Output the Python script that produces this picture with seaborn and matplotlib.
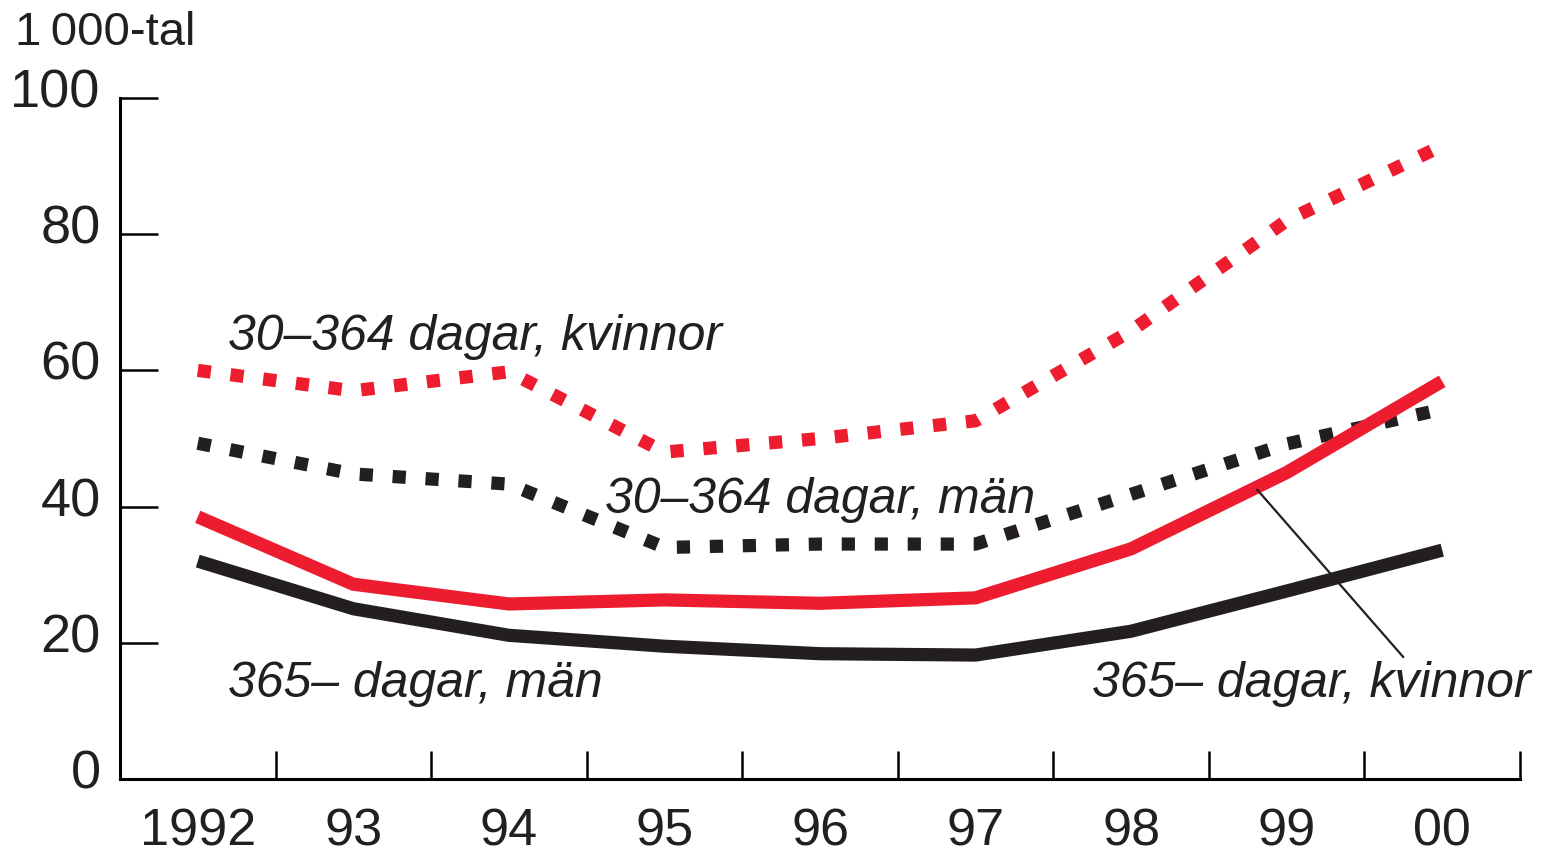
import numpy as np
import pandas as pd
import seaborn as sns
import matplotlib.pyplot as plt
from matplotlib.ticker import FixedLocator
import matplotlib.transforms as mtransforms

# data (1000-tal)
years = ['1992', '93', '94', '95', '96', '97', '98', '99', '00']
kvinnor_30_364 = [60.0, 57.0, 59.8, 48.0, 50.0, 52.6, 65.8, 82.0, 93.0]
man_30_364 = [49.3, 44.8, 43.3, 34.0, 34.5, 34.5, 41.8, 49.2, 54.3]
kvinnor_365 = [38.5, 28.6, 25.7, 26.3, 25.8, 26.6, 33.8, 45.0, 58.4]
man_365 = [32.0, 25.0, 21.1, 19.5, 18.4, 18.2, 21.7, 27.6, 33.6]
y_ticks = [0, 20, 40, 60, 80, 100]

RED = '#ED1C2E'
BLACK = '#231F20'

sns.set_style('ticks')
plt.rcParams['font.family'] = ['Liberation Sans', 'DejaVu Sans']

fig = plt.figure(figsize=(15.42, 8.53), dpi=100)
ax = fig.add_axes([120 / 1542, 1 - 780 / 853, 1400 / 1542, 681 / 853])

x = np.arange(len(years))
dotted = (0, (1, 1.5))
lw = 9.5

sns.lineplot(x=x, y=kvinnor_30_364, ax=ax, color=RED, linewidth=lw, linestyle=dotted)
sns.lineplot(x=x, y=man_30_364, ax=ax, color=BLACK, linewidth=lw, linestyle=dotted)
sns.lineplot(x=x, y=kvinnor_365, ax=ax, color=RED, linewidth=lw, solid_capstyle='butt')
sns.lineplot(x=x, y=man_365, ax=ax, color=BLACK, linewidth=lw, solid_capstyle='butt')

ax.set_xlim(-0.5, len(years) - 0.5)
ax.set_ylim(0, 100)
sns.despine(ax=ax)
for side in ['left', 'bottom']:
    ax.spines[side].set_linewidth(2.2)
    ax.spines[side].set_color('black')

# x: labels centred on years, tick marks between
ax.set_xticks(x)
ax.set_xticklabels(years)
ax.xaxis.set_minor_locator(FixedLocator(np.arange(0.5, len(years), 1.0)))
ax.tick_params(axis='x', which='major', length=0, pad=20, labelsize=37.5, colors=BLACK)
ax.tick_params(axis='x', which='minor', direction='in', length=20, width=1.8, color='black')

ax.set_yticks(y_ticks)
ax.tick_params(axis='y', direction='in', length=27, width=1.8, color='black',
               pad=14, labelsize=39, labelcolor=BLACK)
offset = mtransforms.ScaledTranslation(0, 11 / 100, fig.dpi_scale_trans)
for lab in ax.get_yticklabels():
    lab.set_transform(lab.get_transform() + offset)
ax.set_xlabel('')
ax.set_ylabel('')

fig.text(15 / 1542, 1 - 45 / 853, '1\u2009000-tal', fontsize=34, color=BLACK)

lab_kw = dict(fontsize=36, style='italic', color=BLACK)
fig.text(228 / 1542, 1 - 350 / 853, '30–364 dagar, kvinnor', **lab_kw)
fig.text(605 / 1542, 1 - 513 / 853, '30–364 dagar, män', **lab_kw)
fig.text(228 / 1542, 1 - 697 / 853, '365– dagar, män', **lab_kw)
fig.text(1092 / 1542, 1 - 697 / 853, '365– dagar, kvinnor', **lab_kw)

ax.annotate('', xy=(6.81, 42.5), xytext=(7.75, 17.9),
            arrowprops=dict(arrowstyle='-', color=BLACK, lw=1.6, shrinkA=0, shrinkB=0))

fig.savefig('out.png', dpi=100)
